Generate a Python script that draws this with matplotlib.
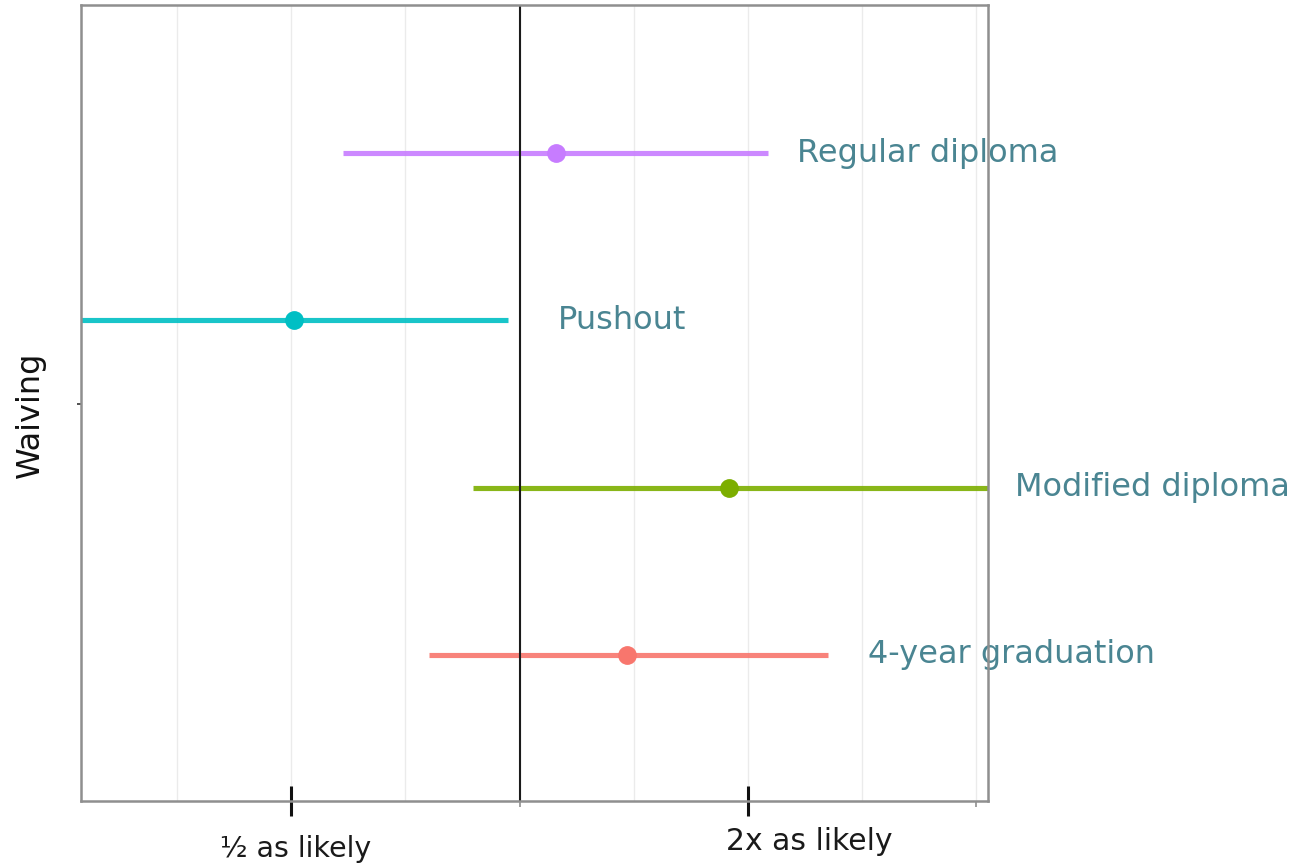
import matplotlib
matplotlib.use("Agg")
import matplotlib.pyplot as plt
import matplotlib.transforms as mtransforms
from matplotlib.ticker import NullFormatter

# Odds ratios (with 95% intervals) for students whose exit exam was waived
outcomes = ["Regular diploma", "Pushout", "Modified diploma", "4-year graduation"]
odds_ratio = [1.117, 0.504, 1.889, 1.386]
ci_low = [0.585, 0.255, 0.868, 0.760]
ci_high = [2.127, 0.966, 4.25, 2.551]
colors = ["#C77CFF", "#00BFC4", "#7CAE00", "#F8766D"]
dodge = [1.5, 0.5, -0.5, -1.5]
label_x = [2.323, 1.124, 4.50, 2.881]

axis_ticks = [0.5, 2]
axis_tick_labels = ["½ as likely", "2x as likely"]
axis_label_x = [0.507, 2.41]
grid_values = [2 ** (k / 2) for k in range(-3, 5)]

plt.rcParams["font.family"] = ["DejaVu Sans"]

W, H = 1302, 866
fig = plt.figure(figsize=(W / 100, H / 100), dpi=100)
left, right, top, bottom = 81, 988, 5, 801
ax = fig.add_axes([left / W, 1 - bottom / H, (right - left) / W, (bottom - top) / H])

ax.set_xscale("log", base=2)
ax.set_xlim(0.2641, 4.147)
ax.set_ylim(-2.377, 2.389)

for gv in grid_values:
    ax.axvline(gv, color="#ebebeb", lw=1.0, zorder=0.5)
ax.axvline(1, color="#1a1a1a", lw=1.5, zorder=3)

label_color = "#4a8592"
for name, orr, lo, hi, c, y, lx in zip(outcomes, odds_ratio, ci_low, ci_high,
                                       colors, dodge, label_x):
    ax.plot([lo, hi], [y, y], color=c, lw=3.7, solid_capstyle="butt",
            alpha=0.9, zorder=2)
    ax.plot([orr], [y], "o", ms=12.5, color=c, mec=c, zorder=4)
    ax.text(lx, y, name, color=label_color, fontsize=23, ha="left",
            va="center", clip_on=False, zorder=1)

for side in ["left", "right", "top", "bottom"]:
    ax.spines[side].set_color("#8f8f8f")
    ax.spines[side].set_linewidth(1.8)
    ax.spines[side].set_zorder(5)

ax.set_xticks(axis_ticks)
ax.set_xticklabels(["" for _ in axis_ticks])
ax.set_xticks([1, 4], minor=True)
ax.xaxis.set_minor_formatter(NullFormatter())
ax.tick_params(axis="x", which="major", length=21.6, width=2.2,
               color="#111111", direction="inout", zorder=6)
ax.tick_params(axis="x", which="minor", length=4, width=1.2, color="#8f8f8f")

trans = mtransforms.blended_transform_factory(ax.transData, fig.transFigure)
label_base = [1 - 857 / H, 1 - 850 / H]
label_size = [20.5, 21.5]
for lx, ly, fs, txt in zip(axis_label_x, label_base, label_size, axis_tick_labels):
    ax.text(lx, ly, txt, transform=trans, ha="center", va="baseline",
            fontsize=fs, color="#1a1a1a", clip_on=False)

ax.set_yticks([0])
ax.set_yticklabels([""])
ax.tick_params(axis="y", length=3, width=1.2, color="#333333")
ax.set_ylabel("Waiving", fontsize=23, color="#111111")
ax.yaxis.set_label_coords(-0.039, 0.485)

fig.savefig("out.png", dpi=100)
